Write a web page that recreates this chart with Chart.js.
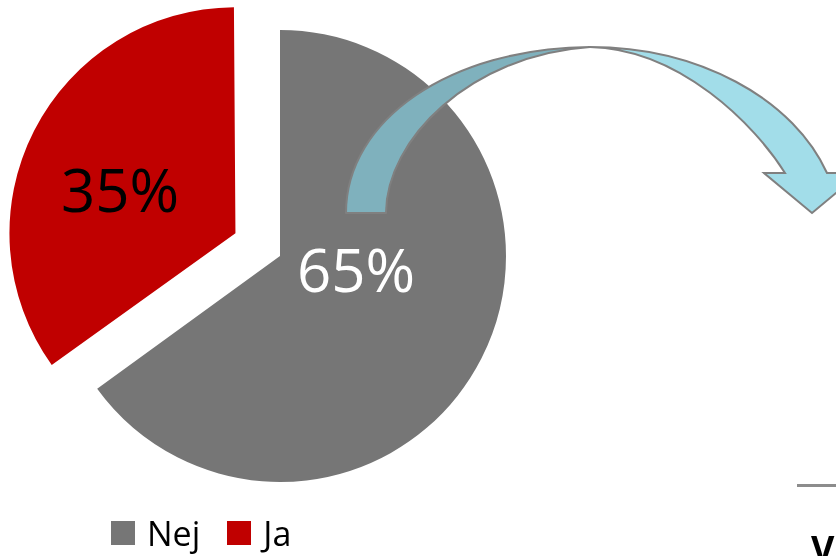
<!DOCTYPE html>
<html>
<head>
<meta charset="utf-8">
<script src="https://cdn.jsdelivr.net/npm/chart.js@4.4.0/dist/chart.umd.min.js"></script>
<style>
  html, body { margin: 0; padding: 0; background: #fff; width: 836px; height: 556px; overflow: hidden; font-family: "Open Sans", sans-serif; }
  #wrap { position: absolute; left: 0; top: 0; width: 560px; height: 512px; }
  #arrow { position: absolute; left: 0; top: 0; }
  #legend { position: absolute; left: 111px; top: 516px; display: flex; align-items: center; font-size: 34px; line-height: 1; color: #000; }
  #legend .item { display: flex; align-items: center; margin-right: 27px; }
  #legend .box { width: 24px; height: 24px; margin-right: 12px; }
  #rule { position: absolute; left: 797px; top: 484px; width: 39px; height: 3px; background: #8c8c8c; }
  #cut { position: absolute; left: 811px; top: 531px; font-weight: bold; font-size: 36px; line-height: 1; white-space: nowrap; }
</style>
</head>
<body>
<div id="wrap"><canvas id="pie"></canvas></div>
<svg id="arrow" width="836" height="556">
  <path d="M346,213 C346,120 450,48 590,47 C470,55 386,140 386,213 Z" fill="#7fb1bd" stroke="#808080" stroke-width="2" stroke-linejoin="round"/>
  <path d="M590,47 A250,185 0 0 1 827,173 L860,173 L812,213 L764,173 L785,173 C755,125 680,49 590,47 Z" fill="#a2dde9" stroke="#808080" stroke-width="2"/>
</svg>
<div id="legend"></div>
<div id="rule"></div>
<div id="cut">V</div>
<script>
let labels = ["Nej", "Ja"];
let values = [65, 35];
let colors = ["#767676", "#c00000"];
let textColors = ["#ffffff", "#000000"];

// legend from the same arrays
let legend = document.getElementById('legend');
labels.forEach((l, i) => {
  let it = document.createElement('div');
  it.className = 'item';
  it.innerHTML = '<span class="box" style="background:' + colors[i] + '"></span><span>' + l + '</span>';
  legend.appendChild(it);
});

// keep the exploded slice at the same radius as the others
const sameRadius = {
  id: 'sameRadius',
  beforeDatasetsDraw(chart) {
    const meta = chart.getDatasetMeta(0);
    const base = meta.controller.outerRadius;
    meta.data.forEach(arc => {
      const off = (arc.options.offset || 0) / 4;
      const fix = 1 - Math.sin(Math.min(Math.PI, arc.circumference));
      arc.outerRadius = base - off * fix;
    });
  }
};

// percent labels inside the slices
const sliceLabels = {
  id: 'sliceLabels',
  afterDatasetsDraw(chart, args, opts) {
    const ctx = chart.ctx;
    const meta = chart.getDatasetMeta(0);
    const total = values.reduce((a, b) => a + b, 0);
    ctx.save();
    ctx.font = '60px "Open Sans"';
    ctx.textAlign = 'center';
    ctx.textBaseline = 'alphabetic';
    meta.data.forEach((arc, i) => {
      const pct = Math.round(values[i] / total * 100) + '%';
      ctx.fillStyle = textColors[i];
      ctx.fillText(pct, arc.x + opts.shift[i][0], arc.y + opts.shift[i][1]);
    });
    ctx.restore();
  }
};

var ctx = document.getElementById('pie');
var myChart = new Chart(ctx, {
  type: 'pie',
  data: {
    labels: labels,
    datasets: [{
      data: values,
      backgroundColor: colors,
      borderWidth: 0,
      offset: [0, 200],
      radius: 226
    }]
  },
  options: {
    responsive: true,
    maintainAspectRatio: false,
    animation: false,
    layout: { padding: 0 },
    plugins: {
      legend: { display: false },
      tooltip: { enabled: false },
      sliceLabels: { shift: [[76, 36], [-160, -44]] }
    }
  },
  plugins: [sameRadius, sliceLabels]
});
</script>
</body>
</html>
